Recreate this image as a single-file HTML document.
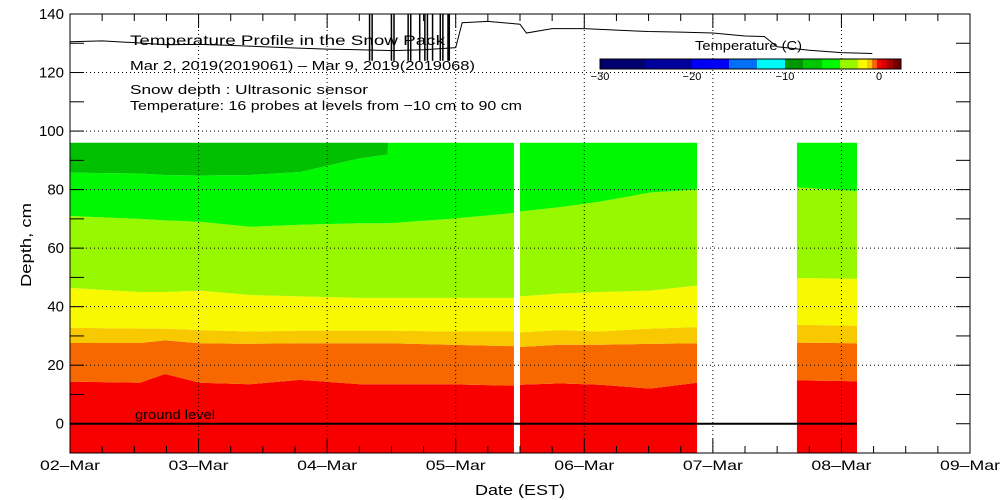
<!DOCTYPE html>
<html><head><meta charset="utf-8">
<style>
html,body{margin:0;padding:0;background:#fff;}
svg{display:block;font-family:"Liberation Sans","DejaVu Sans",sans-serif;}
</style></head>
<body>
<svg id="chart" width="1000" height="500" viewBox="0 0 1000 500" xmlns="http://www.w3.org/2000/svg">
<g id="bands"></g>
<g id="grid"></g>
<g id="axes"></g>
<g id="snow"></g>
<g id="legend"></g>
<g id="texts">
<text x="130" y="45" font-size="14" textLength="315" lengthAdjust="spacingAndGlyphs">Temperature Profile in the Snow Pack</text>
<text x="130" y="70" font-size="13" textLength="345" lengthAdjust="spacingAndGlyphs">Mar  2, 2019(2019061) – Mar  9, 2019(2019068)</text>
<text x="130" y="94" font-size="13" textLength="238" lengthAdjust="spacingAndGlyphs">Snow depth : Ultrasonic sensor</text>
<text x="130" y="110" font-size="13" textLength="392" lengthAdjust="spacingAndGlyphs">Temperature: 16 probes at levels from −10 cm to 90 cm</text>
<text x="135" y="419" font-size="13" textLength="80" lengthAdjust="spacingAndGlyphs">ground level</text>
<text x="520" y="495" font-size="15" text-anchor="middle" textLength="90" lengthAdjust="spacingAndGlyphs">Date (EST)</text>
<text x="31" y="245" font-size="15" text-anchor="middle" transform="rotate(-90 31 245)" textLength="84" lengthAdjust="spacingAndGlyphs">Depth, cm</text>
<text x="695" y="50" font-size="13" textLength="107" lengthAdjust="spacingAndGlyphs">Temperature (C)</text>
</g>
</svg>
<script>
// ---- data ----
const xTickLabels = ["02–Mar","03–Mar","04–Mar","05–Mar","06–Mar","07–Mar","08–Mar","09–Mar"];
const yTickValues = [0,20,40,60,80,100,120,140];
const bandColors = ["#f80000","#f86800","#f8c800","#f8f800","#98f800","#00f800","#00c000"];
// Segment A
const segADays = [0,0.544,0.739,1.011,1.4,1.789,2.256,2.47,2.475,2.956,3.453];
const segAB1 = [14.4,14,17,14,13.5,15,13.5,13.5,13.5,13.5,13];
const segAB2 = [27.6,27.6,28.5,27.5,27.3,27.5,27.5,27.5,27.5,27,26.5];
const segAB3 = [32.8,32.5,32.5,32,31.5,31.8,31.8,31.8,31.8,31.5,31.5];
const segAB4 = [46.4,45,45,45.5,44,43.5,43,43,43,43,43];
const segAB5 = [71,70,69.5,69,67.3,68,68.5,68.5,68.5,70,72];
const segAB6 = [85.8,85.5,85,84.8,85,86,90.7,92,96,96,96];
// Segment B
const segBDays = [3.5,3.811,4.122,4.511,4.877];
const segBB1 = [13.3,13.8,13.3,12,14];
const segBB2 = [26.2,27,27,27.3,27.5];
const segBB3 = [31.2,32,31.5,32.5,33];
const segBB4 = [43.5,44.5,45,45.5,47.2];
const segBB5 = [72.5,74,75.9,79,80];
const segBB6 = [96,96,96,96,96];
// Segment C
const segCDays = [5.654,6.121];
const segCB1 = [14.8,14.5];
const segCB2 = [27.7,27.5];
const segCB3 = [33.8,33.5];
const segCB4 = [49.8,49.5];
const segCB5 = [80.8,79.5];
const segCB6 = [96,96];
const bandBottom = -10, bandTop = 96;
// Snow depth (cm)
const snowDays = [0,0.25,0.5,0.75,1,1.25,1.5,1.75,2,2.25,2.5,2.75,3,3.05,3.25,3.5,3.55,3.75,4,4.25,4.5,4.75,5,5.25,5.4,5.5,5.75,6,6.24];
const snowDepth = [130.5,130.8,130.2,129.5,129.6,129.3,128.8,128.4,128,127.8,127.5,127.8,128.5,137,137.5,136.5,133.5,135,135,134.5,134,133.8,133.5,132.5,132.3,128.8,127.6,126.8,126.5];
const snowSpikeDays = [2.33,2.35,2.5,2.52,2.63,2.65,2.72,2.76,2.78,2.82,2.88,2.9,2.94,2.95];
const legendColors = ["#000070","#00009c","#0000f8","#0070f8","#00f8f8","#009800","#00c800","#00f800","#98f800","#f8f800","#f8c800","#f86800","#f80000","#d80000","#a80000","#700000"];
const legendTicks = [-30,-20,-10,0];

// ---- scales ----
const X0=70,X1=970,Y0=453,Y1=14;
const xs=d=>X0+d*(X1-X0)/7;
const ys=v=>Y0-(v+10)*(Y0-Y1)/150;
const NS="http://www.w3.org/2000/svg";
function mk(tag,parent){const e=document.createElementNS(NS,tag);parent.appendChild(e);return e;}

// ---- bands ----
const gB=document.getElementById('bands');
function drawSeg(days,bounds,name){
  for(let i=0;i<7;i++){
    const lo=i===0?days.map(()=>bandBottom):bounds[i-1];
    const hi=i===6?bounds[5].map(()=>bandTop):bounds[i];
    const pts=[];
    days.forEach((d,k)=>pts.push(xs(d)+","+ys(hi[k])));
    for(let k=days.length-1;k>=0;k--)pts.push(xs(days[k])+","+ys(lo[k]));
    const p=mk('polygon',gB);
    p.setAttribute('points',pts.join(' '));
    p.setAttribute('fill',bandColors[i]);
    
    
  }
}
drawSeg(segADays,[segAB1,segAB2,segAB3,segAB4,segAB5,segAB6],'segment-a');
drawSeg(segBDays,[segBB1,segBB2,segBB3,segBB4,segBB5,segBB6],'segment-b');
drawSeg(segCDays,[segCB1,segCB2,segCB3,segCB4,segCB5,segCB6],'segment-c');
const gl=mk('line',gB);
gl.setAttribute('x1',X0);gl.setAttribute('x2',xs(6.121));gl.setAttribute('y1',ys(0));gl.setAttribute('y2',ys(0));
gl.setAttribute('stroke','#000');gl.setAttribute('stroke-width','2');



// ---- grid ----
const gG=document.getElementById('grid');
for(let d=1;d<7;d++){
  const l=mk('line',gG);
  l.setAttribute('x1',xs(d));l.setAttribute('x2',xs(d));l.setAttribute('y1',Y1);l.setAttribute('y2',Y0);
  l.setAttribute('stroke','#000');l.setAttribute('stroke-dasharray','1,3');
  
  
}
yTickValues.forEach(v=>{ if(v<=0||v>=140)return;
  const l=mk('line',gG);
  l.setAttribute('x1',X0);l.setAttribute('x2',X1);l.setAttribute('y1',ys(v));l.setAttribute('y2',ys(v));
  l.setAttribute('stroke','#000');l.setAttribute('stroke-dasharray','1,3');
  
  
});

// ---- axes ----
const gA=document.getElementById('axes');
const fr=mk('rect',gA);
fr.setAttribute('x',X0);fr.setAttribute('y',Y1);fr.setAttribute('width',X1-X0);fr.setAttribute('height',Y0-Y1);
fr.setAttribute('fill','none');fr.setAttribute('stroke','#000');


for(let q=0;q<=28;q++){
  const d=q/4,len=q%4===0?14:7;
  [[Y0,Y0-len],[Y1,Y1+len]].forEach(([a,b])=>{
    const t=mk('line',gA);
    t.setAttribute('x1',xs(d));t.setAttribute('x2',xs(d));t.setAttribute('y1',a);t.setAttribute('y2',b);t.setAttribute('stroke','#000');
    
    
  });
}
xTickLabels.forEach((s,i)=>{
  const t=mk('text',gA);t.textContent=s;
  t.setAttribute('x',xs(i));t.setAttribute('y',470);t.setAttribute('font-size','14');t.setAttribute('text-anchor','middle');
  t.setAttribute('textLength','60');t.setAttribute('lengthAdjust','spacingAndGlyphs');
  
  
});
for(let v=-10;v<=140;v+=10){
  [[X0,X0+14],[X1,X1-14]].forEach(([a,b])=>{
    const t=mk('line',gA);
    t.setAttribute('x1',a);t.setAttribute('x2',b);t.setAttribute('y1',ys(v));t.setAttribute('y2',ys(v));t.setAttribute('stroke','#000');
    
    
  });
}
yTickValues.forEach(v=>{
  const t=mk('text',gA);t.textContent=v;
  t.setAttribute('x',64);t.setAttribute('y',ys(v)+5);t.setAttribute('font-size','15');t.setAttribute('text-anchor','end');
  
  
});

// ---- snow depth ----
const gS=document.getElementById('snow');
const sl=mk('polyline',gS);
sl.setAttribute('points',snowDays.map((d,i)=>xs(d)+","+ys(snowDepth[i])).join(' '));
sl.setAttribute('fill','none');sl.setAttribute('stroke','#000');sl.setAttribute('stroke-width','1');


snowSpikeDays.forEach(d=>{
  const l=mk('line',gS);
  l.setAttribute('x1',xs(d));l.setAttribute('x2',xs(d));l.setAttribute('y1',Y1);l.setAttribute('y2',ys(124));
  l.setAttribute('stroke','#000');l.setAttribute('stroke-width','1.5');
  
  
});

// ---- legend ----
const gL=document.getElementById('legend');
const LX0=600,LX1=901,LY=59,LH=10;
const legendPx=[600,646,692,729,757,785,803,822,840,858,867,872,877,882,887,893,901];
legendColors.forEach((c,i)=>{
  const r=mk('rect',gL);
  r.setAttribute('x',legendPx[i]);r.setAttribute('y',LY);r.setAttribute('width',legendPx[i+1]-legendPx[i]);r.setAttribute('height',LH);
  r.setAttribute('fill',c);
  
  
});
const lb=mk('rect',gL);
lb.setAttribute('x',LX0);lb.setAttribute('y',LY);lb.setAttribute('width',LX1-LX0);lb.setAttribute('height',LH);
lb.setAttribute('fill','none');lb.setAttribute('stroke','#000');


const legendTickPx={"-30":600,"-20":692,"-10":785,"0":879};
legendTicks.forEach(v=>{
  const t=mk('text',gL);t.textContent=v===0?"0":"−"+Math.abs(v);
  t.setAttribute('x',legendTickPx[v]);t.setAttribute('y',80);t.setAttribute('font-size','11');t.setAttribute('text-anchor','middle');
  
  
});
</script>
</body></html>
